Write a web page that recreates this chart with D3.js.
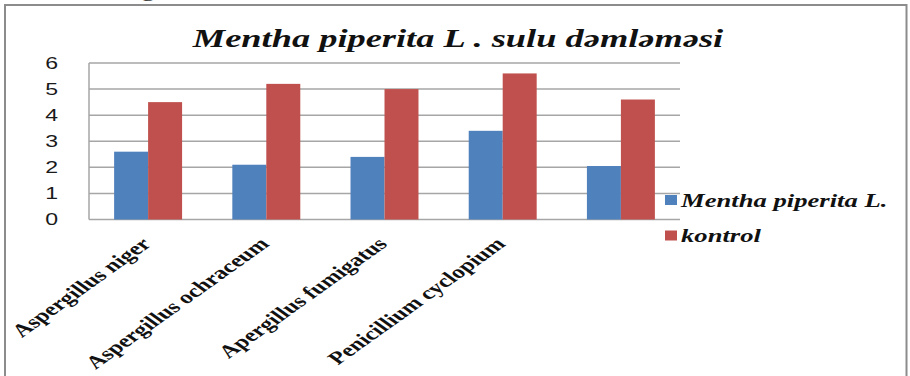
<!DOCTYPE html>
<html>
<head>
<meta charset="utf-8">
<script src="https://cdn.jsdelivr.net/npm/d3@7"></script>
<style>
  body { margin: 0; background: #fff; }
  svg { display: block; }
</style>
</head>
<body>
<div id="chart"></div>
<script>
const WIDTH = 910,
    HEIGHT = 376;

// chart values
const categories = ["Aspergillus niger", "Aspergillus ochraceum", "Apergillus fumigatus", "Penicillium cyclopium", ""];
const seriesNames = ["Mentha piperita L.", "kontrol"];
const mentha = [2.6, 2.1, 2.4, 3.4, 2.05];
const kontrol = [4.5, 5.2, 5.0, 5.6, 4.6];
const yTicks = [0, 1, 2, 3, 4, 5, 6];
const colors = ["#4f81bd", "#c0504d"];

const STRETCH = 1.4; // the picture is squeezed wide, so text is too
const SERIF = "'Liberation Serif', 'Times New Roman', serif";

const rows = categories.map((c, i) => ({ cat: c, values: [mentha[i], kontrol[i]] }));

const svg = d3.select("#chart")
    .append("svg")
    .attr("width", WIDTH)
    .attr("height", HEIGHT);

// frame of the embedded figure
svg.append("rect")
    .attr("x", 5)
    .attr("y", 5)
    .attr("width", 901.5)
    .attr("height", 400)
    .attr("fill", "none")
    .attr("stroke", "#8c8c8c")
    .attr("stroke-width", 2);

// tail of a letter from the line above the figure
svg.append("text")
    .text("g")
    .attr("transform", `translate(141,-4) scale(${STRETCH},1)`)
    .attr("font-family", SERIF)
    .attr("font-size", "20px")
    .attr("fill", "#222");

const plot = { left: 89, right: 680, top: 63, bottom: 219.5 };

const x0 = d3.scaleBand()
    .domain(d3.range(categories.length))
    .range([plot.left, plot.right])
    .paddingInner(0.425)
    .paddingOuter(0.2125);

const x1 = d3.scaleBand()
    .domain(d3.range(seriesNames.length))
    .range([0, x0.bandwidth()]);

const y = d3.scaleLinear()
    .domain([0, 6])
    .range([plot.bottom, plot.top]);

// gridlines
svg.append("g")
    .selectAll("line")
    .data(yTicks)
    .join("line")
    .attr("x1", plot.left)
    .attr("x2", plot.right)
    .attr("y1", (d) => y(d))
    .attr("y2", (d) => y(d))
    .attr("stroke", "#a6a6a6")
    .attr("stroke-width", 1.5);

svg.append("line")
    .attr("x1", plot.left)
    .attr("x2", plot.left)
    .attr("y1", y(6))
    .attr("y2", y(0))
    .attr("stroke", "#a6a6a6")
    .attr("stroke-width", 1.5);

// y tick labels
svg.append("g")
    .selectAll("text")
    .data(yTicks)
    .join("text")
    .text((d) => d)
    .attr("transform", (d) => `translate(58,${y(d)}) scale(${STRETCH},1)`)
    .attr("dy", "0.36em")
    .attr("text-anchor", "end")
    .attr("font-family", "Liberation Sans")
    .attr("font-size", "16.5px")
    .attr("fill", "#1a1a1a");

// bars
svg.append("g")
    .selectAll("g")
    .data(rows)
    .join("g")
    .attr("transform", (d, i) => `translate(${x0(i)},0)`)
    .selectAll("rect")
    .data((d) => d.values)
    .join("rect")
    .attr("x", (d, j) => x1(j))
    .attr("width", x1.bandwidth())
    .attr("y", (d) => y(d))
    .attr("height", (d) => y(0) - y(d))
    .attr("fill", (d, j) => colors[j]);

// category labels, slanted
svg.append("g")
    .selectAll("text")
    .data(categories)
    .join("text")
    .text((d) => d)
    .attr("transform", (d, i) =>
        `translate(${x0(i) + x0.bandwidth() / 2 + 4},245) scale(${STRETCH},1) rotate(-45)`)
    .attr("text-anchor", "end")
    .attr("font-family", SERIF)
    .attr("font-weight", "bold")
    .attr("font-size", "18px")
    .attr("fill", "#111");

// title
svg.append("text")
    .text("Mentha piperita L . sulu dəmləməsi")
    .attr("transform", `translate(458,47) scale(${STRETCH},1)`)
    .attr("text-anchor", "middle")
    .attr("font-family", SERIF)
    .attr("font-weight", "bold")
    .attr("font-style", "italic")
    .attr("font-size", "26px")
    .attr("fill", "#111");

// legend
const legend = svg.append("g")
    .selectAll("g")
    .data(seriesNames)
    .join("g")
    .attr("transform", (d, i) => `translate(665,${200 + i * 35.5})`);

legend.append("rect")
    .attr("x", 0)
    .attr("y", -5)
    .attr("width", 12)
    .attr("height", 10)
    .attr("fill", (d, i) => colors[i]);

legend.append("text")
    .text((d) => d)
    .attr("transform", `translate(16,6.5) scale(1.44,1)`)
    .attr("font-family", SERIF)
    .attr("font-weight", "bold")
    .attr("font-style", "italic")
    .attr("font-size", "18.5px")
    .attr("fill", "#111");
</script>
</body>
</html>
